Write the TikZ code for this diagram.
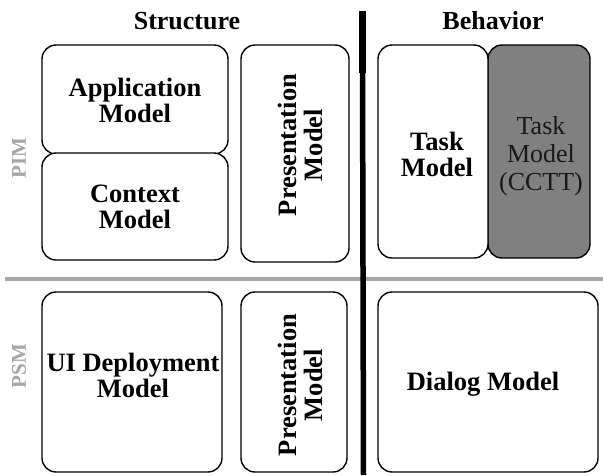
\documentclass[tikz,border=0pt]{standalone}
\usepackage{fontspec}
\setmainfont{Liberation Serif}
\begin{document}
\begin{tikzpicture}[x=1pt,y=-1pt,
  box/.style={draw=black, line width=1.4pt, rounded corners=14pt, inner sep=0pt, fill=white},
  boldtext/.style={font=\fontsize{26.5}{26}\selectfont\bfseries, align=center, inner sep=0pt},
  plaintext/.style={font=\fontsize{26}{28}\selectfont, align=center, inner sep=0pt, text=black!90},
  heading/.style={font=\fontsize{26}{26}\selectfont\bfseries, inner sep=0pt},
  level/.style={font=\fontsize{21}{21}\selectfont\bfseries, inner sep=0pt, text=black!35, rotate=90},
  divider/.style={line width=4.5pt, color=black!35},
  axis/.style={line width=5.5pt, color=black}
]
\useasboundingbox (0,0) rectangle (603,475);

% column headings
\node[heading] (hstruct) at (187,21) {Structure};
\node[heading] (hbehav) at (493,21) {Behavior};

% row labels
\node[level] (pim) at (19,158) {PIM};
\node[level] (psm) at (19,366) {PSM};

% dividers between PIM/PSM and structure/behaviour
\coordinate (dl) at (5,279);
\coordinate (dr) at (603,279);
\draw[divider] (dl) -- (dr);
\coordinate (vt) at (362.5,11);
\coordinate (vm) at (362.5,73);
\coordinate (vb) at (363.5,475);
\draw[line width=7pt] (vt) -- (vm);
\draw[axis] (vm |- 0,60) -- (vb);

% PIM, structure
\node[box, minimum width=186pt, minimum height=109pt] (app) at (135,99.5) {};
\node[box, minimum width=186pt, minimum height=107pt] (ctx) at (135,206.5) {};
\node[box, minimum width=108pt, minimum height=217pt] (pres1) at (295,153.5) {};
\node[boldtext] (tapp) at (135,100) {Application\\Model};
\node[boldtext] (tctx) at (135,207) {Context\\Model};
\node[boldtext, rotate=90] (tpres1) at (300,145) {Presentation\\Model};

% PIM, behaviour
\node[box, minimum width=102pt, minimum height=213pt, fill=black!50] (cctt) at (539,151.5) {};
\node[box, minimum width=110pt, minimum height=213pt] (task) at (433,151.5) {};
\node[boldtext] (ttask) at (437,154) {Task\\Model};
\node[plaintext] (tcctt) at (541,156) {Task\\Model\\(CCTT)};

% PSM
\node[box, minimum width=180pt, minimum height=180pt] (uid) at (132,382) {};
\node[box, minimum width=106pt, minimum height=180pt] (pres2) at (294,382) {};
\node[box, minimum width=220pt, minimum height=180pt] (dlg) at (488,382) {};
\node[boldtext] (tuid) at (133,375) {UI Deployment\\Model};
\node[boldtext, rotate=90] (tpres2) at (300,385) {Presentation\\Model};
\node[boldtext] (tdlg) at (483,384) {Dialog Model};
\end{tikzpicture}
\end{document}
